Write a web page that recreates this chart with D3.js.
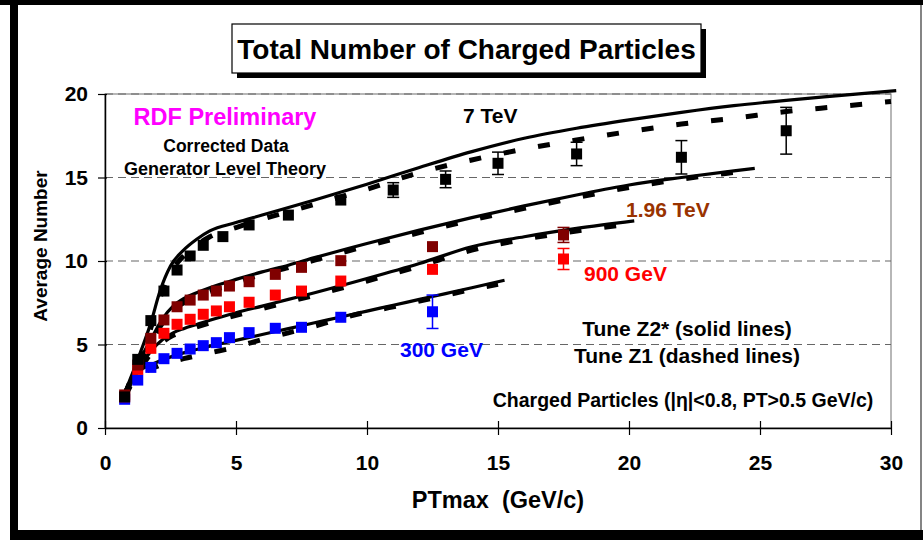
<!DOCTYPE html>
<html>
<head>
<meta charset="utf-8">
<script src="https://cdn.jsdelivr.net/npm/d3@7"></script>
<style>
  body { margin: 0; background: #fff; }
  svg text { font-family: "Liberation Sans", Arial, sans-serif; font-weight: bold; }
</style>
</head>
<body>
<div id="chart"></div>
<script>
// data points (PTmax bin centres, average number, error)
const pt7 = [0.75, 1.25, 1.75, 2.25, 2.75, 3.25, 3.75, 4.5, 5.5, 7, 9, 11, 13, 15, 18, 22, 26];
const n7 = [1.86, 4.11, 6.43, 8.2, 9.46, 10.3, 10.94, 11.46, 12.16, 12.75, 13.65, 14.25, 14.89, 15.85, 16.41, 16.21, 17.8];
const e7 = [0, 0, 0, 0, 0, 0, 0, 0, 0, 0, 0, 0.44, 0.5, 0.67, 0.7, 1.0, 1.4];

const ptLow = [0.75, 1.25, 1.75, 2.25, 2.75, 3.25, 3.75, 4.25, 4.75, 5.5, 6.5, 7.5, 9, 12.5, 17.5];
const n196 = [1.98, 3.77, 5.37, 6.47, 7.26, 7.66, 7.96, 8.2, 8.5, 8.76, 9.2, 9.62, 10.02, 10.86, 11.56];
const e196 = [0, 0, 0, 0, 0, 0, 0, 0, 0, 0, 0, 0, 0, 0, 0.45];
const n900 = [1.87, 3.51, 4.77, 5.67, 6.21, 6.51, 6.81, 7.01, 7.26, 7.53, 7.96, 8.2, 8.8, 9.5, 10.12];
const e900 = [0, 0, 0, 0, 0, 0, 0, 0, 0, 0, 0, 0, 0, 0, 0.63];
const pt300 = [0.75, 1.25, 1.75, 2.25, 2.75, 3.25, 3.75, 4.25, 4.75, 5.5, 6.5, 7.5, 9, 12.5];
const n300 = [1.72, 2.87, 3.63, 4.15, 4.47, 4.73, 4.93, 5.11, 5.41, 5.71, 5.97, 6.03, 6.63, 6.96];
const e300 = [0, 0, 0, 0, 0, 0, 0, 0, 0, 0, 0, 0, 0, 1.0];

// theory curves: Tune Z2* (solid) and Tune Z1 (dashed)
const z2x7 = [0.75, 1.25, 1.75, 2.1, 2.5, 3, 3.5, 4, 5, 6, 8, 10, 12, 14, 16, 18, 20, 22, 24, 26, 28, 30.2];
const z2y7 = [2.1, 4.1, 6.3, 8.2, 9.7, 10.65, 11.3, 11.8, 12.3, 12.75, 13.65, 14.6, 15.6, 16.55, 17.35, 17.95, 18.45, 18.9, 19.3, 19.62, 19.9, 20.2];
const z1x7 = [0.75, 1.25, 1.75, 2.1, 2.5, 3, 3.5, 4, 5, 6, 8, 10, 12, 14, 16, 18, 20, 22, 24, 26, 28, 30];
const z1y7 = [2.0, 3.9, 6.0, 7.8, 9.3, 10.3, 10.95, 11.45, 12.0, 12.5, 13.4, 14.3, 15.3, 16.05, 16.7, 17.25, 17.75, 18.2, 18.55, 18.95, 19.25, 19.55];

const zx196 = [0.75, 1.25, 1.75, 2.2, 2.6, 3, 3.5, 4, 5, 6, 7, 8, 10, 12, 14, 16, 18, 20, 22, 24, 24.8];
const z2y196 = [2.0, 3.8, 5.3, 6.55, 7.3, 7.75, 8.1, 8.4, 8.9, 9.35, 9.75, 10.2, 11.05, 11.85, 12.6, 13.3, 13.95, 14.55, 15.0, 15.4, 15.55];
const z1y196 = [1.95, 3.7, 5.1, 6.3, 7.05, 7.5, 7.85, 8.15, 8.7, 9.2, 9.6, 10.05, 10.9, 11.7, 12.45, 13.15, 13.8, 14.4, 14.9, 15.3, 15.45];

const zx900 = [0.75, 1.25, 1.75, 2.2, 2.6, 3, 3.5, 4, 5, 6, 7, 8, 10, 12, 14, 16, 18, 20.2];
const z2y900 = [1.9, 3.4, 4.6, 5.3, 5.7, 5.95, 6.2, 6.45, 6.9, 7.3, 7.7, 8.1, 8.95, 9.85, 10.85, 11.45, 11.95, 12.4];
const z1y900 = [1.85, 3.3, 4.45, 5.15, 5.55, 5.8, 6.05, 6.3, 6.75, 7.15, 7.55, 7.95, 8.8, 9.7, 10.65, 11.3, 11.8, 12.25];

const z2x300 = [0.7, 1.2, 2, 3, 4, 5, 6, 7, 8, 9, 10, 11, 12, 13, 14, 15.25];
const z2y300 = [2.05, 3.25, 3.95, 4.5, 4.9, 5.25, 5.6, 5.95, 6.3, 6.65, 7.0, 7.35, 7.7, 8.05, 8.4, 8.85];
const z1x300 = [0.7, 1.2, 2, 3, 4, 5, 6, 7, 8, 9, 10, 11, 12, 13, 14, 15];
const z1y300 = [1.95, 3.0, 3.7, 4.15, 4.5, 4.85, 5.3, 5.7, 6.1, 6.55, 6.95, 7.25, 7.6, 7.95, 8.3, 8.6];

const xTicks = [0, 5, 10, 15, 20, 25, 30];
const yTicks = [0, 5, 10, 15, 20];

const width = 923, height = 540;
const svg = d3.select("#chart").append("svg")
    .attr("width", width)
    .attr("height", height);

// slide frame
svg.append("rect").attr("x", 0).attr("y", 0).attr("width", 923).attr("height", 5).attr("fill", "#000");
svg.append("rect").attr("x", 10).attr("y", 0).attr("width", 8).attr("height", 540).attr("fill", "#000");
svg.append("rect").attr("x", 10).attr("y", 530).attr("width", 913).attr("height", 10).attr("fill", "#000");
svg.append("line").attr("x1", 921).attr("x2", 921).attr("y1", 5).attr("y2", 530)
    .attr("stroke", "#333").attr("stroke-width", 1.2);

const x = d3.scaleLinear().domain([0, 30]).range([105, 891]);
const y = d3.scaleLinear().domain([0, 20]).range([428, 94]);

// plot border + grid
svg.append("rect")
    .attr("x", x(0)).attr("y", y(20))
    .attr("width", x(30) - x(0)).attr("height", y(0) - y(20))
    .attr("fill", "none").attr("stroke", "#888").attr("stroke-width", 1.2);

svg.append("g").selectAll("line")
    .data(yTicks.filter(d => d > 0))
    .join("line")
    .attr("x1", x(0)).attr("x2", x(30))
    .attr("y1", d => y(d)).attr("y2", d => y(d))
    .attr("stroke", "#666").attr("stroke-width", 1.2)
    .attr("stroke-dasharray", "8,5");

// curves
const line = d3.line()
    .x(d => x(d[0]))
    .y(d => y(d[1]))
    .curve(d3.curveMonotoneX);

const curves = [
    {xs: z1x7, ys: z1y7, dashed: true},
    {xs: zx196, ys: z1y196, dashed: true},
    {xs: zx900, ys: z1y900, dashed: true},
    {xs: z1x300, ys: z1y300, dashed: true},
    {xs: z2x7, ys: z2y7, dashed: false},
    {xs: zx196, ys: z2y196, dashed: false},
    {xs: zx900, ys: z2y900, dashed: false},
    {xs: z2x300, ys: z2y300, dashed: false}
];

curves.forEach(c => {
    svg.append("path")
        .datum(d3.zip(c.xs, c.ys))
        .attr("d", line)
        .attr("fill", "none")
        .attr("stroke", "#000")
        .attr("stroke-width", c.dashed ? 5 : 3.2)
        .attr("stroke-dasharray", c.dashed ? "12,23" : null);
});

// data points with error bars
const series = [
    {xs: pt300, ys: n300, es: e300, color: "#0000ff"},
    {xs: ptLow, ys: n900, es: e900, color: "#ff0000"},
    {xs: ptLow, ys: n196, es: e196, color: "#800000"},
    {xs: pt7, ys: n7, es: e7, color: "#000000"}
];

const sq = 11;
series.forEach(s => {
    const pts = s.xs.map((v, i) => ({x: v, y: s.ys[i], e: s.es[i]}));
    const g = svg.append("g");
    const eb = pts.filter(d => d.e > 0);
    g.selectAll("line.bar").data(eb).join("line")
        .attr("x1", d => x(d.x)).attr("x2", d => x(d.x))
        .attr("y1", d => y(d.y - d.e)).attr("y2", d => y(d.y + d.e))
        .attr("stroke", s.color).attr("stroke-width", 1.5);
    [-1, 1].forEach(sgn => {
        g.selectAll("line.cap" + sgn).data(eb).join("line")
            .attr("x1", d => x(d.x) - 6).attr("x2", d => x(d.x) + 6)
            .attr("y1", d => y(d.y + sgn * d.e)).attr("y2", d => y(d.y + sgn * d.e))
            .attr("stroke", s.color).attr("stroke-width", 1.5);
    });
    g.selectAll("rect").data(pts).join("rect")
        .attr("x", d => x(d.x) - sq / 2)
        .attr("y", d => y(d.y) - sq / 2)
        .attr("width", sq).attr("height", sq)
        .attr("fill", s.color);
});

// axes
const xAxis = svg.append("g")
    .attr("transform", `translate(0,${y(0)})`)
    .call(d3.axisBottom(x).tickValues(xTicks).tickSize(7).tickSizeOuter(0).tickPadding(20));
xAxis.selectAll(".tick line").attr("y1", -7).attr("y2", 7).attr("stroke-width", 1.2);
xAxis.select(".domain").attr("stroke-width", 1.5);
xAxis.selectAll("text").attr("font-size", 21).attr("fill", "#000")
    .attr("font-family", "Liberation Sans, Arial, sans-serif").attr("font-weight", "bold");

const yAxis = svg.append("g")
    .attr("transform", `translate(${x(0)},0)`)
    .call(d3.axisLeft(y).tickValues(yTicks).tickSize(7).tickSizeOuter(0).tickPadding(10));
yAxis.selectAll(".tick line").attr("x2", 2).attr("x1", -7).attr("stroke-width", 1.2);
yAxis.select(".domain").attr("stroke-width", 1.5);
yAxis.selectAll("text").attr("font-size", 21).attr("fill", "#000")
    .attr("font-family", "Liberation Sans, Arial, sans-serif").attr("font-weight", "bold");

// axis titles
svg.append("text")
    .attr("x", 498).attr("y", 508)
    .attr("text-anchor", "middle")
    .attr("font-size", 23.5)
    .text("PTmax\u00a0\u00a0(GeV/c)");

svg.append("text")
    .attr("transform", "translate(47,246) rotate(-90)")
    .attr("text-anchor", "middle")
    .attr("font-size", 19)
    .text("Average Number");

// title box
svg.append("rect").attr("x", 237).attr("y", 29).attr("width", 469).attr("height", 49).attr("fill", "#000");
svg.append("rect").attr("x", 232).attr("y", 24).attr("width", 469).attr("height", 49)
    .attr("fill", "#fff").attr("stroke", "#000").attr("stroke-width", 1.2);
svg.append("text")
    .attr("x", 466.5).attr("y", 59)
    .attr("text-anchor", "middle")
    .attr("font-size", 28)
    .text("Total Number of Charged Particles");

// annotations
const notes = [
    {t: "RDF Preliminary", x: 225, y: 125, s: 23.5, c: "#ff00ff", a: "middle"},
    {t: "Corrected Data", x: 226, y: 152, s: 17.5, c: "#000", a: "middle"},
    {t: "Generator Level Theory", x: 225, y: 175, s: 18, c: "#000", a: "middle"},
    {t: "7 TeV", x: 463, y: 123, s: 21, c: "#000", a: "start"},
    {t: "1.96 TeV", x: 626, y: 217, s: 21, c: "#993300", a: "start"},
    {t: "900 GeV", x: 584, y: 281, s: 21, c: "#ff0000", a: "start"},
    {t: "300 GeV", x: 400, y: 356.5, s: 21, c: "#0000ff", a: "start"},
    {t: "Tune Z2* (solid lines)", x: 687, y: 336, s: 21, c: "#000", a: "middle"},
    {t: "Tune Z1 (dashed lines)", x: 687, y: 363, s: 21, c: "#000", a: "middle"},
    {t: "Charged Particles (|\u03b7|<0.8, PT>0.5 GeV/c)", x: 683, y: 406.5, s: 19.5, c: "#000", a: "middle"}
];
svg.append("g").selectAll("text")
    .data(notes)
    .join("text")
    .attr("x", d => d.x).attr("y", d => d.y)
    .attr("text-anchor", d => d.a)
    .attr("font-size", d => d.s)
    .attr("fill", d => d.c)
    .text(d => d.t);
</script>
</body>
</html>
